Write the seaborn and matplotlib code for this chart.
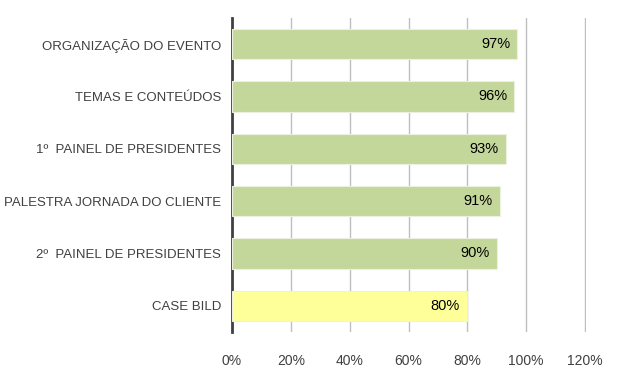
import pandas as pd
import seaborn as sns
import matplotlib.pyplot as plt
from matplotlib.ticker import PercentFormatter

# dados
itens = ["ORGANIZAÇÃO DO EVENTO", "TEMAS E CONTEÚDOS", "1º  PAINEL DE PRESIDENTES",
         "PALESTRA JORNADA DO CLIENTE", "2º  PAINEL DE PRESIDENTES", "CASE BILD"]
valores = [0.97, 0.96, 0.93, 0.91, 0.90, 0.80]
cores = ["#c4d79b", "#c4d79b", "#c4d79b", "#c4d79b", "#c4d79b", "#ffff99"]

df = pd.DataFrame({"item": itens, "valor": valores})

sns.set_style("white")
plt.rcParams['font.family'] = ['Liberation Sans', 'DejaVu Sans']

fig = plt.figure(figsize=(6.22, 3.73), dpi=100)
ax = fig.add_axes([0.373, 0.110, 0.569, 0.842])

sns.barplot(data=df, x="valor", y="item", hue="item", palette=cores, legend=False,
            orient="h", width=0.58, saturation=1, ax=ax, zorder=3,
            edgecolor="#ebf1de", linewidth=0.8)

for i, v in enumerate(valores):
    ax.text(v - 0.025, i, f"{v*100:.0f}%", ha="right", va="center",
            fontsize=10.5, color="black", zorder=4)

ax.set_xlim(0, 1.203)
ax.set_xticks([0, 0.2, 0.4, 0.6, 0.8, 1.0, 1.2])
ax.xaxis.set_major_formatter(PercentFormatter(1.0, decimals=0))
ax.grid(axis="x", color="#bfbfbf", linewidth=1, zorder=0)
ax.set_xlabel("")
ax.set_ylabel("")
for s in ["top", "right", "bottom"]:
    ax.spines[s].set_visible(False)
ax.spines["left"].set_color("#404040")
ax.spines["left"].set_linewidth(2)
ax.tick_params(axis="y", length=0, labelsize=9.5, colors="#404040", pad=8)
ax.tick_params(axis="x", length=0, labelsize=10, colors="#404040", pad=16)

plt.savefig("out.png", dpi=100)
